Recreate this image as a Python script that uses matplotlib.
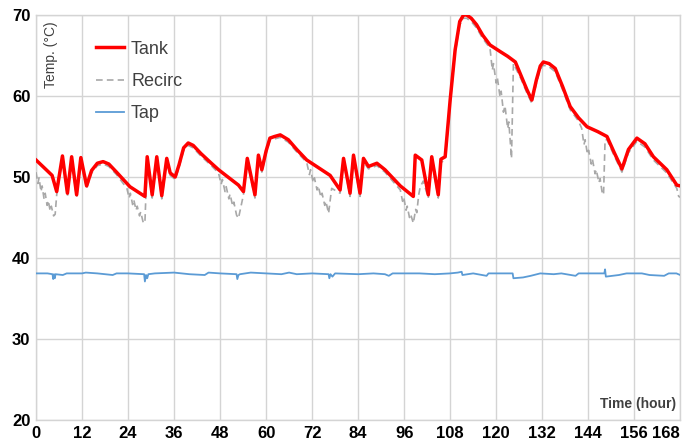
"""
Weekly temperature trace: tank, recirculation and tap water.
"""

import matplotlib.pyplot as plt

# Tank temperature (hour, degC)
tank_hours = [0, 2, 4.2, 5.4, 6.9, 8.2, 9.3, 10.6, 11.7, 13.2, 14.5, 16, 17.5, 19, 21,
              24.5, 28.4, 29.0, 30.3, 31.5, 32.8, 34.1, 35, 36.3, 37.3, 38.5, 39.7, 41,
              43, 45.5, 47.6, 50.6, 52.8, 54.1, 55.1, 57.1, 58.0, 58.9, 60, 61.0, 62.2,
              63.7, 65.8, 68, 70.6, 73.5, 76.7, 79.3, 80.2, 81.9, 82.8, 84.5, 85.4, 86.7,
              88.9, 91, 95, 98.4, 98.9, 100.6, 102.3, 103.2, 104.9, 105.6, 106.7, 108,
              109.3, 110.5, 111.5, 112.3, 113.5, 114.9, 116.5, 118.4, 121, 123, 125,
              126.5, 128, 129.3, 130.5, 131.5, 132.3, 133.8, 135.4, 137.3, 139.3, 141.5,
              143.7, 146.5, 148.9, 150.8, 152.8, 154.5, 156.7, 158.8, 161, 164.5, 167.1, 168]
tank_temp = [52.1, 51.2, 50.2, 48.2, 52.6, 48.0, 52.5, 47.8, 52.4, 48.9, 50.8, 51.7, 51.9,
             51.6, 50.6, 48.8, 47.6, 52.5, 47.8, 52.5, 47.7, 52.3, 50.5, 50.0, 51.5, 53.6,
             54.2, 53.9, 52.9, 51.8, 50.9, 49.8, 49.0, 48.2, 52.3, 47.8, 52.7, 50.9, 53.2,
             54.8, 55.0, 55.2, 54.6, 53.4, 52.1, 51.2, 50.2, 48.4, 52.3, 48.0, 52.7, 48.0,
             52.3, 51.3, 51.7, 50.9, 48.9, 47.6, 52.7, 52.1, 47.8, 52.5, 47.8, 52.2, 52.5,
             59.5, 65.7, 69.2, 70.0, 70.0, 69.6, 68.8, 67.5, 66.3, 65.5, 64.9, 64.2, 62.5,
             60.8, 59.5, 62.0, 63.7, 64.2, 64.0, 63.4, 61.2, 58.7, 57.3, 56.2, 55.6, 55.0,
             53.0, 51.0, 53.4, 54.8, 54.1, 52.5, 50.9, 49.0, 48.9]

# Recirculation return temperature (hour, degC)
recirc_hours = [0, 0.5, 0.8, 1.3, 1.6, 2.1, 2.4, 2.9, 3.2, 3.7, 4.0, 4.6, 5.0, 5.4, 6.9,
                8.2, 9.3, 10.6, 11.7, 13.2, 14.5, 16, 17.5, 19, 21, 23.7, 24.3, 24.6,
                25.2, 25.5, 26.1, 26.4, 27.0, 27.3, 27.9, 28.4, 29.0, 30.3, 31.5, 32.8,
                34.1, 35, 36.3, 37.3, 38.5, 39.7, 41, 43, 45.5, 47.6, 48.3, 48.6, 49.3,
                49.6, 50.3, 50.6, 51.3, 51.6, 52.3, 52.8, 54.1, 55.1, 57.1, 58.0, 58.9,
                60, 61.0, 62.2, 63.7, 65.8, 68, 70.6, 71.3, 71.6, 72.3, 72.6, 73.3, 73.6,
                74.3, 74.6, 75.3, 75.6, 76.3, 77.1, 79.3, 80.2, 81.9, 82.8, 84.5, 85.4,
                86.7, 88.9, 91, 95, 95.6, 95.9, 96.5, 96.8, 97.4, 97.7, 98.4, 99.0, 99.3,
                99.8, 100.2, 101.0, 102.3, 103.2, 104.9, 105.6, 106.7, 108, 109.3, 110.5,
                111.5, 112.3, 113.5, 114.9, 116.5, 118.4, 119.0, 119.3, 120.0, 120.3,
                121.0, 121.3, 121.9, 122.3, 123.0, 123.3, 124.0, 124.5, 126.5, 128, 129.3,
                130.5, 131.5, 132.3, 133.8, 135.4, 137.3, 139.3, 141.5, 142.3, 142.9,
                143.2, 143.8, 144.1, 144.8, 145.1, 145.8, 146.1, 146.8, 147.1, 147.6,
                148.0, 148.4, 148.9, 150.8, 152.8, 154.5, 156.7, 158.8, 161, 164.5,
                167.1, 167.6, 168]
recirc_temp = [50.6, 49.2, 49.9, 48.2, 48.9, 47.3, 48.0, 46.5, 47.1, 45.8, 46.4, 45.2,
               45.4, 47.8, 52.2, 47.6, 52.1, 47.4, 52.0, 48.6, 50.5, 51.4, 51.6, 51.3,
               50.3, 48.6, 47.4, 48.0, 46.6, 47.2, 45.9, 46.4, 45.2, 45.7, 44.5, 44.3,
               52.1, 47.4, 52.1, 47.3, 51.9, 50.2, 49.7, 51.2, 53.3, 53.9, 53.6, 52.6,
               51.5, 50.5, 49.1, 49.7, 48.2, 48.8, 47.3, 47.9, 46.4, 46.9, 45.3, 44.9,
               47.8, 51.9, 47.4, 52.3, 50.6, 52.9, 54.5, 54.7, 54.9, 54.3, 53.1, 51.8,
               50.3, 50.9, 49.3, 49.9, 48.4, 48.9, 47.5, 48.0, 46.5, 47.0, 45.5, 48.6,
               48.0, 51.9, 47.6, 52.3, 47.6, 51.9, 51.0, 51.4, 50.6, 48.4, 47.0, 47.5,
               45.9, 46.4, 45.0, 45.4, 44.3, 46.0, 45.6, 47.8, 48.8, 49.5, 47.4, 52.1,
               47.4, 51.8, 52.1, 59.1, 65.3, 68.8, 69.6, 69.6, 69.2, 68.4, 67.1, 65.9,
               63.2, 64.0, 61.6, 62.3, 59.9, 60.6, 58.0, 58.8, 56.0, 56.8, 52.3, 64.0,
               62.1, 60.4, 59.1, 61.6, 63.3, 63.8, 63.6, 63.0, 60.8, 58.3, 56.9, 56.0,
               54.0, 54.6, 52.8, 53.3, 51.6, 52.2, 50.4, 50.9, 49.3, 49.8, 48.2, 47.8,
               54.6, 54.6, 52.6, 50.6, 53.0, 54.4, 53.7, 52.1, 50.5, 48.6, 47.6, 47.5]

# Tap (delivered) temperature (hour, degC)
tap_hours = [0, 3, 4.3, 4.5, 4.7, 4.9, 5.1, 7, 8, 12, 13, 16, 20, 21, 24, 28.2, 28.4,
             28.7, 29, 29.3, 31, 36, 40, 44, 45, 48, 52.3, 52.5, 52.8, 53.2, 56, 60, 64,
             66, 68, 72, 76.3, 76.5, 76.8, 77.3, 78, 84, 88, 91, 92, 93, 100, 104, 108,
             110, 111, 111.2, 114, 117.5, 118, 124.3, 124.5, 127, 129, 131.5, 135, 137,
             140.7, 141.5, 148.2, 148.4, 148.6, 152, 154, 158, 160, 163.8, 165, 167, 168]
tap_temp = [38.1, 38.1, 38.0, 37.4, 38.0, 37.5, 38.0, 37.9, 38.1, 38.1, 38.2, 38.1, 37.9,
            38.1, 38.1, 38.0, 37.1, 37.9, 37.5, 38.0, 38.1, 38.2, 38.0, 37.9, 38.2, 38.1,
            38.0, 37.4, 37.9, 38.0, 38.2, 38.1, 38.0, 38.2, 38.0, 38.1, 38.0, 37.5, 38.0,
            37.7, 38.1, 38.0, 38.1, 38.0, 37.8, 38.1, 38.1, 38.0, 38.1, 38.2, 38.3, 37.9,
            38.1, 37.8, 38.1, 38.1, 37.5, 37.6, 37.8, 38.1, 38.0, 38.1, 37.8, 38.1, 38.1,
            38.6, 37.7, 37.9, 38.1, 38.1, 37.9, 37.8, 38.1, 38.1, 37.9]

x_ticks = list(range(0, 169, 12))
y_ticks = [20, 30, 40, 50, 60, 70]

plt.rcParams["font.family"] = ["Liberation Sans Narrow", "Liberation Sans", "DejaVu Sans"]

fig = plt.figure(figsize=(6.92, 4.48), dpi=100)
ax = fig.add_axes([0.052, 0.0625, 0.931, 0.904])

grid_color = "#d4d4d4"
ax.plot(tap_hours, tap_temp, color="#5b9bd5", linewidth=1.3, label="Tap", zorder=3)
ax.plot(recirc_hours, recirc_temp, color="#a8a8a8", linewidth=1.2, dashes=(4, 2.5),
        label="Recirc", zorder=4)
ax.plot(tank_hours, tank_temp, color="#ff0000", linewidth=2.5, label="Tank", zorder=5,
        solid_joinstyle="round")

ax.set_xlim(0, 168)
ax.set_ylim(20, 70)
ax.set_xticks(x_ticks)
ax.set_yticks(y_ticks)
ax.tick_params(length=0, labelsize=12, pad=4)
for lbl in ax.get_xticklabels() + ax.get_yticklabels():
    lbl.set_fontweight("bold")
# keep the last hour label inside the figure
ax.get_xticklabels()[-1].set_horizontalalignment("right")
ax.grid(True, color=grid_color, linewidth=1)
for sp in ax.spines.values():
    sp.set_color(grid_color)
    sp.set_linewidth(1)

ax.text(0.013, 0.985, "Temp. (°C)", rotation=90, ha="left", va="top",
        transform=ax.transAxes, fontsize=10, color="#404040",
        family=["Liberation Sans", "DejaVu Sans"])
ax.text(0.993, 0.04, "Time (hour)", ha="right", va="center", transform=ax.transAxes,
        fontsize=10, fontweight="bold", color="#404040")

handles, labels = ax.get_legend_handles_labels()
order = [2, 1, 0]
ax.legend([handles[i] for i in order], [labels[i] for i in order],
          loc="upper left", bbox_to_anchor=(0.093, 0.937), frameon=False,
          handlelength=1.55, handletextpad=0.4, labelspacing=0.85,
          borderpad=0, borderaxespad=0, labelcolor="#404040",
          prop={"family": ["Liberation Sans", "DejaVu Sans"], "size": 13})

plt.savefig("out.png", dpi=100)
